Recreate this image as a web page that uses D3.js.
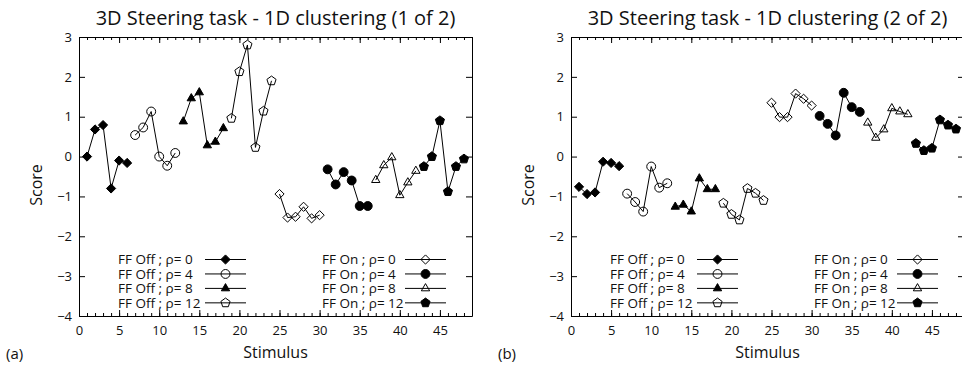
<!DOCTYPE html>
<html>
<head>
<meta charset="utf-8">
<script src="https://cdn.jsdelivr.net/npm/d3@7"></script>
<style>
  html, body { margin: 0; padding: 0; background: #fff; }
  svg { display: block; font-family: "Open Sans", "Noto Sans", sans-serif; }
  .tick line, .domain { stroke: #000; stroke-width: 1; }
  .tick text { font-size: 13px; fill: #111; }
</style>
</head>
<body>
<svg id="chart" width="962" height="368"></svg>
<script>
// Stimulus numbers for each group of six trials
const stimuliGroups = [
  [1, 2, 3, 4, 5, 6],
  [7, 8, 9, 10, 11, 12],
  [13, 14, 15, 16, 17, 18],
  [19, 20, 21, 22, 23, 24],
  [25, 26, 27, 28, 29, 30],
  [31, 32, 33, 34, 35, 36],
  [37, 38, 39, 40, 41, 42],
  [43, 44, 45, 46, 47, 48]
];

const seriesLabels = [
  "FF Off ; ρ= 0", "FF Off ; ρ= 4", "FF Off ; ρ= 8", "FF Off ; ρ= 12",
  "FF On ; ρ= 0", "FF On ; ρ= 4", "FF On ; ρ= 8", "FF On ; ρ= 12"
];

// Marker per series: shape and whether it is filled
const seriesShapes = ["diamond", "circle", "triangle", "pentagon", "diamond", "circle", "triangle", "pentagon"];
const seriesFilled = [true, false, true, false, false, true, false, true];

// Cluster 1 of 2 scores
const scores1OffR0 = [0.00, 0.68, 0.79, -0.80, -0.10, -0.16];
const scores1OffR4 = [0.54, 0.73, 1.13, 0.00, -0.23, 0.09];
const scores1OffR8 = [0.88, 1.46, 1.61, 0.28, 0.37, 0.71];
const scores1OffR12 = [0.96, 2.13, 2.80, 0.23, 1.14, 1.90];
const scores1OnR0 = [-0.94, -1.53, -1.51, -1.26, -1.55, -1.47];
const scores1OnR4 = [-0.32, -0.70, -0.39, -0.60, -1.24, -1.24];
const scores1OnR8 = [-0.59, -0.22, -0.02, -0.97, -0.65, -0.36];
const scores1OnR12 = [-0.25, 0.00, 0.90, -0.88, -0.25, -0.06];

// Cluster 2 of 2 scores
const scores2OffR0 = [-0.76, -0.94, -0.90, -0.13, -0.16, -0.24];
const scores2OffR4 = [-0.93, -1.14, -1.38, -0.25, -0.78, -0.67];
const scores2OffR8 = [-1.26, -1.21, -1.38, -0.55, -0.82, -0.82];
const scores2OffR12 = [-1.17, -1.45, -1.59, -0.80, -0.92, -1.10];
const scores2OnR0 = [1.35, 0.99, 0.99, 1.58, 1.45, 1.28];
const scores2OnR4 = [1.02, 0.82, 0.53, 1.60, 1.24, 1.12];
const scores2OnR8 = [0.85, 0.47, 0.68, 1.21, 1.13, 1.06];
const scores2OnR12 = [0.33, 0.15, 0.21, 0.92, 0.79, 0.69];

const xTicks = [0, 5, 10, 15, 20, 25, 30, 35, 40, 45];
const yTicks = [-4, -3, -2, -1, 0, 1, 2, 3];

const panels = [
  {
    title: "3D Steering task - 1D clustering (1 of 2)", tag: "(a)", left: 79,
    series: [scores1OffR0, scores1OffR4, scores1OffR8, scores1OffR12,
             scores1OnR0, scores1OnR4, scores1OnR8, scores1OnR12]
  },
  {
    title: "3D Steering task - 1D clustering (2 of 2)", tag: "(b)", left: 571,
    series: [scores2OffR0, scores2OffR4, scores2OffR8, scores2OffR12,
             scores2OnR0, scores2OnR4, scores2OnR8, scores2OnR12]
  }
];

const plotW = 393, plotTop = 37, plotBottom = 316;

// Outline-style markers drawn as paths
function markerPath(shape) {
  if (shape === "circle") return d3.symbol(d3.symbolCircle, 62)();
  if (shape === "triangle") return d3.symbol(d3.symbolTriangle, 30)();
  if (shape === "diamond") {
    const r = 4.6;
    return `M0,${-r}L${r},0L0,${r}L${-r},0Z`;
  }
  const r = 4.8; // pentagon
  const pts = d3.range(5).map(k => {
    const a = -Math.PI / 2 + k * 2 * Math.PI / 5;
    return [r * Math.cos(a), r * Math.sin(a)];
  });
  return "M" + pts.map(p => p.join(",")).join("L") + "Z";
}

const svg = d3.select("#chart");

panels.forEach(panel => {
  const x = d3.scaleLinear().domain([0, 49]).range([panel.left, panel.left + plotW]);
  const y = d3.scaleLinear().domain([-4, 3]).range([plotBottom, plotTop]);
  const g = svg.append("g");

  // Frame with inward ticks on all four sides
  g.append("g").attr("transform", `translate(0,${plotBottom})`)
    .call(d3.axisBottom(x).tickValues(xTicks).tickSize(-6).tickSizeOuter(0).tickPadding(10));
  g.append("g").attr("transform", `translate(0,${plotBottom})`)
    .call(d3.axisBottom(x).tickValues(d3.range(0, 50)).tickSize(-3).tickSizeOuter(0).tickFormat(""))
    .select(".domain").remove();
  g.append("g").attr("transform", `translate(0,${plotTop})`)
    .call(d3.axisTop(x).tickValues(xTicks).tickSize(-6).tickSizeOuter(0).tickFormat(""));
  g.append("g").attr("transform", `translate(0,${plotTop})`)
    .call(d3.axisTop(x).tickValues(d3.range(0, 50)).tickSize(-3).tickSizeOuter(0).tickFormat(""))
    .select(".domain").remove();
  g.append("g").attr("transform", `translate(${panel.left},0)`)
    .call(d3.axisLeft(y).tickValues(yTicks).tickSize(-6).tickSizeOuter(0).tickPadding(7).tickFormat(d3.format("d")));
  g.append("g").attr("transform", `translate(${panel.left + plotW},0)`)
    .call(d3.axisRight(y).tickValues(yTicks).tickSize(-6).tickSizeOuter(0).tickFormat(""));
  g.selectAll("g").attr("font-family", null).attr("font-size", null);

  // Titles and axis labels
  g.append("text").attr("x", panel.left + plotW / 2).attr("y", 25)
    .attr("text-anchor", "middle").attr("font-size", 20).attr("fill", "#111").text(panel.title);
  g.append("text").attr("x", panel.left + plotW / 2).attr("y", 358)
    .attr("text-anchor", "middle").attr("font-size", 16).attr("fill", "#111").text("Stimulus");
  g.append("text").attr("transform", `translate(${panel.left - 37},185) rotate(-90)`)
    .attr("text-anchor", "middle").attr("font-size", 16).attr("fill", "#111").text("Score");
  g.append("text").attr("x", panel.left - 73).attr("y", 359)
    .attr("font-size", 15).attr("fill", "#111").text(panel.tag);

  // Series: connecting lines and markers
  const line = d3.line().x(d => x(d[0])).y(d => y(d[1]));
  panel.series.forEach((vals, s) => {
    const pts = stimuliGroups[s].map((st, i) => [st, vals[i]]);
    g.append("path").attr("d", line(pts)).attr("fill", "none").attr("stroke", "#000").attr("stroke-width", 1);
    g.selectAll(null).data(pts).enter().append("path")
      .attr("transform", d => `translate(${x(d[0])},${y(d[1])})`)
      .attr("d", markerPath(seriesShapes[s]))
      .attr("fill", seriesFilled[s] ? "#000" : "none")
      .attr("stroke", "#000").attr("stroke-width", 1);
  });

  // Legend: two columns of four entries
  seriesLabels.forEach((label, s) => {
    const col = s < 4 ? 0 : 1;
    const row = s % 4;
    const tx = panel.left + (col ? 243 : 39);
    const ly = 259.5 + row * 14.45;
    const lx0 = panel.left + (col ? 326 : 126);
    g.append("text").attr("x", tx).attr("y", ly + 4.8).attr("font-size", 13.5).attr("fill", "#111").text(label);
    g.append("line").attr("x1", lx0).attr("x2", lx0 + 41).attr("y1", ly).attr("y2", ly)
      .attr("stroke", "#000").attr("stroke-width", 1);
    g.append("path").attr("transform", `translate(${lx0 + 20.5},${ly})`)
      .attr("d", markerPath(seriesShapes[s]))
      .attr("fill", seriesFilled[s] ? "#000" : "none")
      .attr("stroke", "#000").attr("stroke-width", 1);
  });
});
</script>
</body>
</html>
